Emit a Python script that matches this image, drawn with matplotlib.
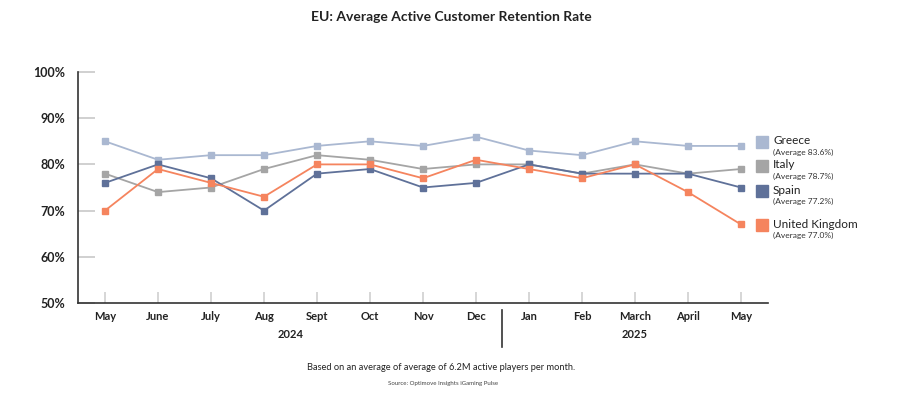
import matplotlib
matplotlib.use("Agg")
import matplotlib.pyplot as plt
from matplotlib.lines import Line2D
from matplotlib.transforms import blended_transform_factory

plt.rcParams['font.family'] = ['Lato', 'DejaVu Sans']

months = ["May", "June", "July", "Aug", "Sept", "Oct", "Nov", "Dec",
          "Jan", "Feb", "March", "April", "May"]
years = ["2024", "2025"]
greece = [85, 81, 82, 82, 84, 85, 84, 86, 83, 82, 85, 84, 84]
italy = [78, 74, 75, 79, 82, 81, 79, 80, 80, 78, 80, 78, 79]
spain = [76, 80, 77, 70, 78, 79, 75, 76, 80, 78, 78, 78, 75]
uk = [70, 79, 76, 73, 80, 80, 77, 81, 79, 77, 80, 74, 67]
series_names = ["Greece", "Italy", "Spain", "United Kingdom"]
averages = ["83.6%", "78.7%", "77.2%", "77.0%"]
yticks = [50, 60, 70, 80, 90, 100]

colors = ["#aab8d1", "#a5a5a5", "#5f7199", "#f5845e"]
W, H = 900, 395
fig = plt.figure(figsize=(9, 3.95), dpi=100)
ax = fig.add_axes([78 / W, 1 - 303 / H, (768 - 78) / W, (303 - 72) / H])

x = list(range(len(months)))
for vals, c in zip([greece, italy, spain, uk], colors):
    ax.plot(x, vals, color=c, lw=1.3, marker='s', ms=5, mec=c, mfc=c, clip_on=False, zorder=3)

ax.set_xlim(-0.51, 12.51)
ax.set_ylim(50, 100)
ax.set_yticks(yticks)
ax.set_yticklabels([f"{v}%" for v in yticks], fontsize=9, fontweight='bold', color='#222222')
ax.set_xticks(x)
ax.set_xticklabels(months, fontsize=8, fontweight='bold', color='#222222')
ax.tick_params(axis='y', direction='in', length=12, width=1.2, color='#c8c8c8', pad=9)
ax.tick_params(axis='x', direction='in', length=8, width=1.2, color='#d0d0d0', pad=6)
for s in ['top', 'right']:
    ax.spines[s].set_visible(False)
for s in ['left', 'bottom']:
    ax.spines[s].set_color('#333333')
    ax.spines[s].set_linewidth(1.2)

# year separator and year labels
tr = blended_transform_factory(ax.transData, ax.transAxes)
ax.plot([7.5, 7.5], [-0.03, -0.19], color='#333333', lw=1.2, transform=tr, clip_on=False)
ax.text(3.5, -0.135, years[0], transform=tr, ha='center', va='center', fontsize=8, fontweight='bold', color='#222222')
ax.text(10.0, -0.135, years[1], transform=tr, ha='center', va='center', fontsize=8, fontweight='bold', color='#222222')

# title and notes
fig.text(451 / W, 1 - 17 / H, "EU: Average Active Customer Retention Rate", ha='center', va='center',
         fontsize=10, fontweight='bold', color='#222222')
fig.text(441 / W, 1 - 367 / H, "Based on an average of average of 6.2M active players per month.",
         ha='center', va='center', fontsize=6.7, color='#222222')
fig.text(443 / W, 1 - 383 / H, "Source: Optimove Insights iGaming Pulse",
         ha='center', va='center', fontsize=4.4, color='#444444')

# legend
leg_y = [142, 166, 191, 225]
for name, avg, c, yy in zip(series_names, averages, colors, leg_y):
    fig.add_artist(Line2D([762 / W], [1 - yy / H], marker='s', ms=9, color=c, mec=c, mfc=c,
                          transform=fig.transFigure))
    fig.text(773 / W, 1 - (yy - 1) / H, name, ha='left', va='center', fontsize=8.5, color='#222222')
    fig.text(773 / W, 1 - (yy + 10) / H, f"(Average {avg})", ha='left', va='center', fontsize=6, color='#333333')

fig.savefig("out.png", dpi=100)
